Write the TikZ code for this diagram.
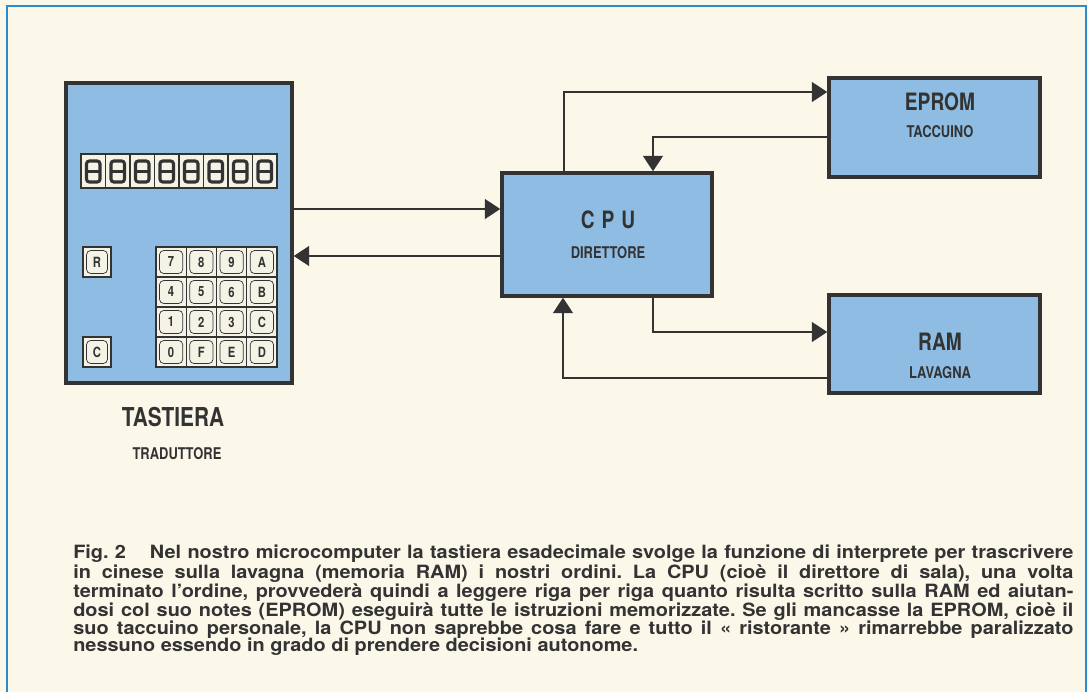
\documentclass[tikz,border=0pt]{standalone}
\usepackage{fontspec}
\setmainfont{TeX Gyre Heros}
\newfontfamily\condfont[FakeStretch=0.8]{TeX Gyre Heros}
\newfontfamily\capfont[FakeStretch=1.09]{TeX Gyre Heros}
\usepackage{tikz}
\usetikzlibrary{positioning,arrows.meta,calc}
\definecolor{PaperC}{HTML}{FBF8EA}
\definecolor{FrameC}{HTML}{2E8BCB}
\definecolor{BoxC}{HTML}{8EBCE2}
\definecolor{InkC}{HTML}{333333}
\definecolor{KeyC}{HTML}{F5F2E6}

\begin{document}
\begin{tikzpicture}[x=0.025cm,y=-0.025cm,
  box/.style={draw=InkC,fill=BoxC,line width=2.4pt,inner sep=0pt},
  conn/.style={draw=InkC,line width=1.8pt},
  arr/.style={conn,-{Triangle[width=14pt,length=11pt]}},
  big/.style={font=\condfont\bfseries\fontsize{17}{17}\selectfont,text=InkC,inner sep=0pt},
  small/.style={font=\condfont\bfseries\fontsize{11.5}{12}\selectfont,text=InkC,inner sep=0pt},
  keycap/.style={draw=InkC,fill=KeyC,line width=1pt},
  keylab/.style={font=\condfont\bfseries\fontsize{10}{10}\selectfont,text=InkC,inner sep=0pt},
  caption/.style={font=\capfont\bfseries\fontsize{13}{12.6}\selectfont\frenchspacing,
    text=InkC,inner sep=0pt,text width=25cm,align=justify}]

% ================= page and frame =================
\fill[PaperC] (0,0) rectangle (1088,692);
\useasboundingbox (0,0) rectangle (1088,692);
\draw[FrameC,line width=1.2pt] (7,692) -- (7,6) -- (1086,6) -- (1086,692);

% ================= the keyboard =================
\node[box,minimum width=5.65cm,minimum height=7.5cm] (tast) at (179,233) {};

% display
\foreach \i in {0,...,7}{
  \draw[keycap] (81+\i*24.5,154) rectangle ++(24.5,34);
  \draw[InkC,line width=2.2pt,rounded corners=2pt]
    (86.5+\i*24.5,161) rectangle ++(13.5,21);
  \draw[InkC,line width=2.2pt] (86.5+\i*24.5,171.5) -- ++(13.5,0);}

% hex keypad
\foreach \lab [count=\k from 0] in {7,8,9,A,4,5,6,B,1,2,3,C,0,F,E,D}{
  \pgfmathtruncatemacro\col{mod(\k,4)}
  \pgfmathtruncatemacro\row{div(\k,4)}
  \draw[keycap] (156+\col*30.25,247+\row*30) rectangle ++(30.25,30);
  \draw[InkC,line width=.5pt,rounded corners=3pt]
    (159.5+\col*30.25,250.5+\row*30) rectangle ++(23.25,23);
  \node[keylab] (k\k) at (171.1+\col*30.25,262+\row*30) {\lab};}
\draw[InkC,line width=1.6pt] (156,247) rectangle (277,367);

% reset and clear keys
\foreach \lab/\y in {R/247,C/337}{
  \draw[keycap,line width=1.4pt] (83,\y) rectangle ++(28,30);
  \draw[InkC,line width=.5pt,rounded corners=3pt] (86.5,\y+3.5) rectangle ++(21,23);
  \node[keylab] (key\lab) at (97,\y+15) {\lab};}

\node[big,font=\condfont\bfseries\fontsize{18.5}{18}\selectfont] (tast-t) at (173,417) {TASTIERA};
\node[small] (tast-s) at (177,454) {TRADUTTORE};

% ================= CPU, EPROM, RAM =================
\node[box,minimum width=5.25cm,minimum height=3.075cm] (cpu) at (607,234.5) {};
\node[big] (cpu-t) at (608,220) {C\hspace{5pt}P\hspace{5pt}U};
\node[small] (cpu-s) at (608,253) {DIRETTORE};

\node[box,minimum width=5.275cm,minimum height=2.475cm] (eprom) at (934.5,127.5) {};
\node[big] (eprom-t) at (940,102) {EPROM};
\node[small] (eprom-s) at (940,132) {TACCUINO};

\node[box,minimum width=5.275cm,minimum height=2.45cm] (ram) at (934.5,344) {};
\node[big] (ram-t) at (940,342) {RAM};
\node[small] (ram-s) at (940,373) {LAVAGNA};

% ================= connections =================
\draw[arr] (tast.east |- 0,209) -- (cpu.west |- 0,209);
\draw[arr] (cpu.west |- 0,256) -- (tast.east |- 0,256);
\draw[arr] (cpu.north -| 564,0) |- (eprom.west |- 0,92);
\draw[arr] (eprom.west |- 0,137) -| (cpu.north -| 653,0);
\draw[arr] (cpu.south -| 653,0) |- (ram.west |- 0,332);
\draw[arr] (ram.west |- 0,378) -| (cpu.south -| 563,0);

% ================= caption =================
\node[caption,anchor=north west] (cap) at (73,545)
  {Fig.~2\hspace{1.3em}Nel nostro microcomputer la tastiera esadecimale svolge la funzione di interprete per trascrivere\linebreak
  in cinese sulla lavagna (memoria RAM) i nostri ordini. La CPU (cioè il direttore di sala), una volta\linebreak
  terminato l’ordine, provvederà quindi a leggere riga per riga quanto risulta scritto sulla RAM ed aiutan-\linebreak
  dosi col suo notes (EPROM) eseguirà tutte le istruzioni memorizzate. Se gli mancasse la EPROM, cioè il\linebreak
  suo taccuino personale, la CPU non saprebbe cosa fare e tutto il « ristorante » rimarrebbe paralizzato\linebreak
  nessuno essendo in grado di prendere decisioni autonome.};
\end{tikzpicture}
\end{document}
